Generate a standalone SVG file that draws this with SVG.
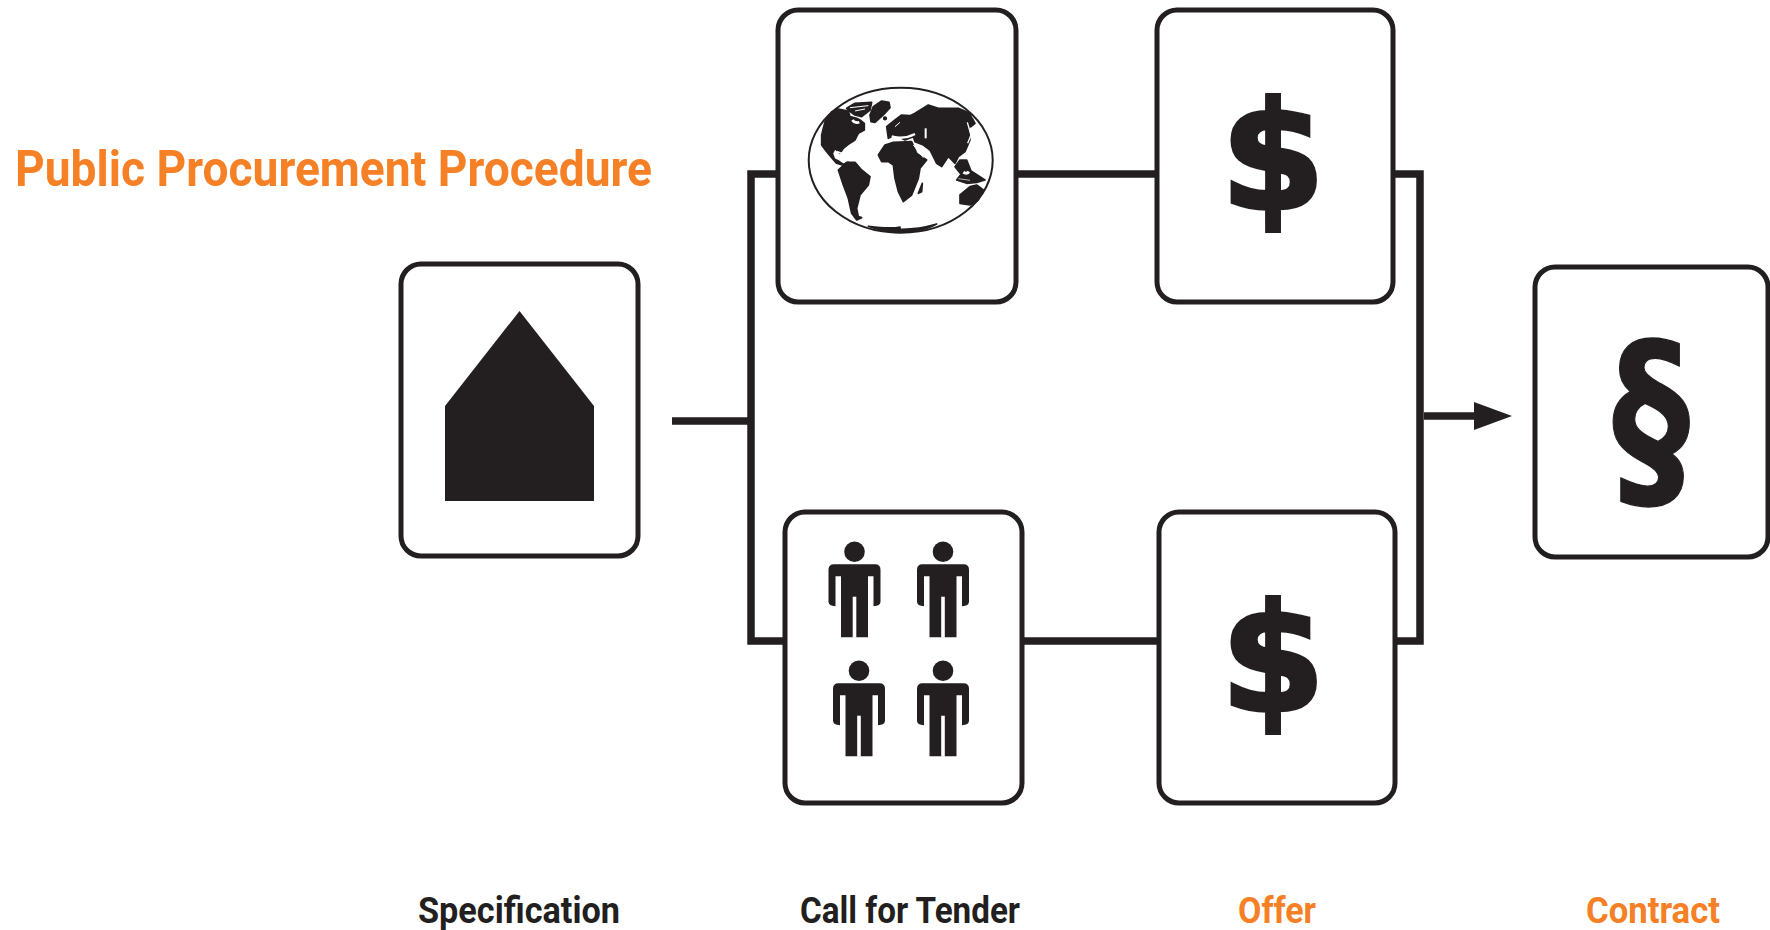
<svg xmlns="http://www.w3.org/2000/svg" width="1770" height="930" viewBox="0 0 1770 930">
<style>
.box{fill:#fff;stroke:#231f20;stroke-width:5}
.ink{fill:#231f20}
.land{fill:#231f20;stroke:#231f20;stroke-width:5;stroke-linejoin:round}
.wire{fill:none;stroke:#231f20;stroke-width:7.5}
.lbl{font-family:Roboto,"Liberation Sans",sans-serif;font-weight:700;font-size:36px}
.org{fill:#f58025}
.dark{fill:#231f20}
.sym{font-family:"DejaVu Sans",sans-serif;font-weight:700;fill:#231f20;stroke:#231f20;text-anchor:middle}
</style>
<defs>
<g id="person" class="ink">
<circle cx="0" cy="0" r="10.300"/>
<path d="M-20.500,12.500 H20.500 Q26,12.500 26,18 V50 Q26,54 19,54.500 V24.500 H13.500 V85.500 H-13.500 V24.500 H-19 V54.500 Q-26,54 -26,50 V18 Q-26,12.500 -20.500,12.500 Z"/>
<rect x="-1.800" y="45" width="3.600" height="41" fill="#fff"/>
</g>
</defs>
<rect width="1770" height="930" fill="#fff"/>
<g id="connectors">
<path class="wire" d="M672,421 H751"/>
<path class="wire" d="M781,174 H751 V641 H787"/>
<path class="wire" d="M1016,174 H1157"/>
<path class="wire" d="M1022,641 H1159"/>
<path class="wire" d="M1393,174 H1420 V641 H1395"/>
<path class="wire" d="M1424,416 H1476"/>
<polygon class="ink" points="1474,402 1512,416 1474,430"/>
</g>
<g id="title"><text x="15" y="186" class="lbl org" style="font-size:50px" textLength="637" lengthAdjust="spacingAndGlyphs">Public Procurement Procedure</text></g>
<g id="node-specification">
<rect class="box" x="401" y="264" width="237" height="292" rx="20"/>
<polygon class="ink" points="519.500,311 594,406 594,501 445,501 445,406"/>
<text x="418" y="923" class="lbl dark" textLength="202" lengthAdjust="spacingAndGlyphs">Specification</text>
</g>
<g id="node-call-for-tender-world">
<rect class="box" x="778" y="10" width="238" height="292" rx="20"/>
<ellipse cx="900.700" cy="160.300" rx="92" ry="72.500" fill="#fff" stroke="#231f20" stroke-width="2"/>
<g transform="translate(805,85) scale(0.3333)">
<g class="land">
<path d="M60,110 L80,80 L100,72 L130,78 L135,95 L155,100 L165,105 L178,115 L178,135 L160,145 L150,165 L130,178 L115,190 L105,205 L90,190 L82,205 L88,222 L100,228 L115,238 L130,232 L125,242 L112,240 L95,235 L80,218 L65,200 L50,180 L50,150 Z"/>
<path d="M125,70 L150,55 L200,52 L195,75 L170,95 L150,90 L135,80 Z"/>
<path d="M195,90 L205,65 L230,48 L252,52 L255,68 L235,90 L210,112 L198,110 Z"/>
<circle cx="240" cy="100" r="4"/>
<path d="M100,255 L125,232 L150,232 L170,255 L195,275 L190,300 L165,330 L155,370 L160,395 L170,398 L155,405 L140,385 L130,340 L115,300 Z"/>
<path d="M190,424 Q260,432 285,426 L285,440 Q240,443 190,424 Z"/>
</g>
<g fill="none" stroke="#fff" stroke-width="3">
<path d="M135,68 L190,62"/><path d="M150,78 L180,72"/>
<path d="M142,105 Q150,116 163,112" stroke-width="8"/>
<path d="M95,200 L125,210" stroke-width="5"/>
</g>
</g>
<g transform="translate(895,85) scale(0.3333)">
<g class="land">
<path d="M0,105 L20,90 L45,92 L60,85 L100,60 L130,70 L160,70 L190,70 L225,85 L235,115 L220,130 L225,165 L210,200 L190,215 L180,235 L170,225 L160,215 L140,245 L125,235 L105,195 L85,180 L60,170 L55,155 L30,165 L0,150 L-20,160 L-25,125 Z"/>
<path d="M-50,210 L-30,180 L-5,172 L50,170 L65,205 L95,225 L75,250 L70,280 L50,330 L25,350 L10,320 L0,280 L-5,240 L-20,230 L-40,230 Z"/>
<path d="M70,325 L82,295 L80,320 Z"/>
<path d="M195,330 L225,305 L245,300 L265,315 L250,345 L225,360 L195,355 Z"/>
<path d="M180,245 L195,225 L215,225 L228,258 L270,285 L245,292 L215,295 L185,285 L198,268 Z"/>
<path d="M0,432 Q60,436 125,417 Q80,442 0,442 Z"/>
<path d="M232,100 L240,115 L228,125 Z"/>
</g>
<g fill="none" stroke="#fff">
<path d="M-10,154 Q25,165 60,147" stroke-width="7"/>
<path d="M92,130 V160" stroke-width="6"/>
<path d="M55,180 L85,218" stroke-width="3"/>
<path d="M217,112 L228,150 L218,175" stroke-width="4"/>
<path d="M205,262 Q215,268 222,260" stroke-width="9"/>
<path d="M190,281 L225,286" stroke-width="2"/>
<path d="M0,125 L15,112" stroke-width="3"/>
</g>
</g>
<text x="800" y="923" class="lbl dark" textLength="220" lengthAdjust="spacingAndGlyphs">Call for Tender</text>
</g>
<g id="node-offer-top">
<rect class="box" x="1157" y="10" width="236" height="292" rx="20"/>
<text class="sym" x="1273" y="209" font-size="150" stroke-width="4">$</text>
<text x="1238" y="923" class="lbl org" textLength="78" lengthAdjust="spacingAndGlyphs">Offer</text>
</g>
<g id="node-call-for-tender-people">
<rect class="box" x="785" y="512" width="237" height="291" rx="20"/>
<use href="#person" x="854.500" y="551.700"/>
<use href="#person" x="943" y="551.700"/>
<use href="#person" x="859" y="670.700"/>
<use href="#person" x="943" y="670.700"/>
</g>
<g id="node-offer-bottom">
<rect class="box" x="1159" y="512" width="236" height="291" rx="20"/>
<text class="sym" x="1273" y="711" font-size="150" stroke-width="4">$</text>
</g>
<g id="node-contract">
<rect class="box" x="1535" y="267" width="233" height="290" rx="20"/>
<text class="sym" transform="translate(1651,488) scale(1,1.29)" font-size="156" stroke-width="1">§</text>
<text x="1586" y="923" class="lbl org" textLength="134" lengthAdjust="spacingAndGlyphs">Contract</text>
</g>
</svg>
